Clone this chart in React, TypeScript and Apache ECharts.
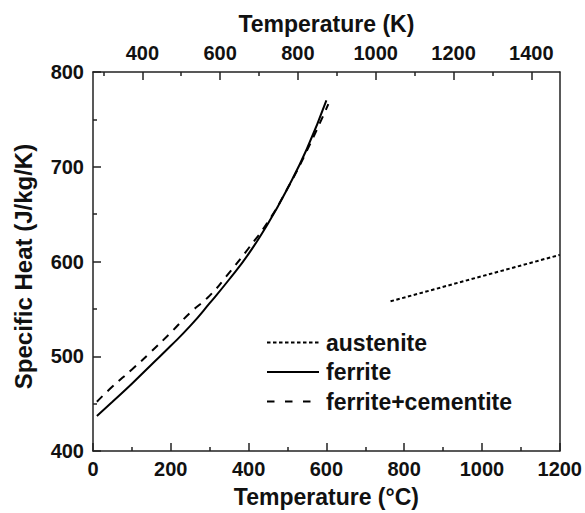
import React, { useEffect, useRef } from 'react';
import * as echarts from 'echarts';

// ---- data ----
const celsiusMin = 0;
const celsiusMax = 1200;
const kelvinMin = 273.15;
const kelvinMax = 1473.15;
const kelvinMajorTicks = [400, 600, 800, 1000, 1200, 1400];
const kelvinMinorTicks = [300, 500, 700, 900, 1100, 1300];

const seriesNames = ['austenite', 'ferrite', 'ferrite+cementite'];

const austeniteT = [765, 1200];
const austeniteCp = [558, 607];

const ferriteT = [10, 50, 100, 150, 200, 250, 300, 350, 400, 450, 500, 550, 600];
const ferriteCp = [437, 452, 471, 491, 511, 532, 556, 581, 608, 640, 677, 719, 770];

const ferriteCementiteT = [10, 50, 100, 150, 200, 250, 300, 350, 400, 450, 500, 550, 605];
const ferriteCementiteCp = [452, 468, 486, 505, 525, 546, 564, 588, 614, 642, 677, 717, 766];

const FONT = '"Liberation Sans", Arial, Helvetica, sans-serif';
const AXIS_COLOR = '#222';

const zip = (xs: number[], ys: number[]) => xs.map((x, i) => [x, ys[i]]);
const plain = (v: number) => String(Math.round(v));

const tickLabel = {
  fontSize: 20,
  fontWeight: 'bold' as const,
  color: '#111',
  fontFamily: FONT,
  formatter: plain,
};
const titleStyle = {
  fontSize: 23,
  fontWeight: 'bold' as const,
  color: '#111',
  fontFamily: FONT,
};
const axisLine = { show: true, lineStyle: { color: AXIS_COLOR, width: 1.5 } };

export default function App() {
  const ref = useRef<HTMLDivElement>(null);

  useEffect(() => {
    document.body.style.margin = '0';
    if (!ref.current) return;
    const chart = echarts.init(ref.current, undefined, { renderer: 'svg' });
    const option: any = {
      animation: false,
      backgroundColor: '#fff',
      grid: { left: 93, right: 22, top: 72, bottom: 62, containLabel: false },
      legend: {
        orient: 'vertical',
        left: 266,
        top: 331,
        padding: 0,
        itemWidth: 52,
        itemHeight: 14,
        itemGap: 6.5,
        data: [
          { name: seriesNames[0] },
          { name: seriesNames[1] },
          { name: seriesNames[2], lineStyle: { type: [7.5, 10.5] } },
        ],
        itemStyle: { color: 'rgba(0,0,0,0)', borderWidth: 0, opacity: 0 },
        textStyle: { ...titleStyle, lineHeight: 23, padding: [0, 0, 0, 2] },
      },
      xAxis: [
        {
          type: 'value',
          position: 'bottom',
          min: celsiusMin,
          max: celsiusMax,
          interval: 200,
          name: 'Temperature (°C)',
          nameLocation: 'middle',
          nameGap: 34,
          nameTextStyle: titleStyle,
          axisLine,
          axisTick: { show: true, inside: true, length: 8, lineStyle: { color: AXIS_COLOR, width: 1.5 } },
          minorTick: { show: true, splitNumber: 2, length: 4, lineStyle: { color: AXIS_COLOR, width: 1.5 } },
          axisLabel: { ...tickLabel, margin: 8 },
          splitLine: { show: false },
          minorSplitLine: { show: false },
        },
        {
          type: 'value',
          position: 'top',
          min: kelvinMin,
          max: kelvinMax,
          name: 'Temperature (K)',
          nameLocation: 'middle',
          nameGap: 37,
          nameTextStyle: titleStyle,
          axisLine,
          axisTick: {
            show: true,
            inside: true,
            length: 8,
            customValues: kelvinMajorTicks,
            lineStyle: { color: AXIS_COLOR, width: 1.5 },
          },
          axisLabel: { ...tickLabel, margin: 9, customValues: kelvinMajorTicks },
          splitLine: { show: false },
        },
        {
          type: 'value',
          position: 'top',
          min: kelvinMin,
          max: kelvinMax,
          axisLine: { show: false },
          axisTick: {
            show: true,
            inside: true,
            length: 4,
            customValues: kelvinMinorTicks,
            lineStyle: { color: AXIS_COLOR, width: 1.5 },
          },
          axisLabel: { show: false, customValues: kelvinMinorTicks },
          splitLine: { show: false },
        },
      ],
      yAxis: [
        {
          type: 'value',
          position: 'left',
          min: 400,
          max: 800,
          interval: 100,
          name: 'Specific Heat (J/kg/K)',
          nameLocation: 'middle',
          nameGap: 58,
          nameRotate: 90,
          nameTextStyle: { ...titleStyle, fontSize: 24, padding: [0, 10, 0, 0] },
          axisLine,
          axisTick: { show: true, inside: true, length: 8, lineStyle: { color: AXIS_COLOR, width: 1.5 } },
          minorTick: { show: true, splitNumber: 2, length: 4, lineStyle: { color: AXIS_COLOR, width: 1.5 } },
          axisLabel: { ...tickLabel, margin: 9 },
          splitLine: { show: false },
          minorSplitLine: { show: false },
        },
        {
          type: 'value',
          position: 'right',
          min: 400,
          max: 800,
          axisLine,
          axisTick: { show: false },
          axisLabel: { show: false },
          splitLine: { show: false },
        },
      ],
      series: [
        {
          name: seriesNames[0],
          type: 'line',
          xAxisIndex: 0,
          yAxisIndex: 0,
          data: zip(austeniteT, austeniteCp),
          symbol: 'none',
          lineStyle: { color: '#000', width: 2, type: [3.5, 2.5] },
          itemStyle: { color: '#000' },
        },
        {
          name: seriesNames[1],
          type: 'line',
          xAxisIndex: 0,
          yAxisIndex: 0,
          data: zip(ferriteT, ferriteCp),
          symbol: 'none',
          smooth: true,
          lineStyle: { color: '#000', width: 2, type: 'solid' },
          itemStyle: { color: '#000' },
        },
        {
          name: seriesNames[2],
          type: 'line',
          xAxisIndex: 0,
          yAxisIndex: 0,
          data: zip(ferriteCementiteT, ferriteCementiteCp),
          symbol: 'none',
          smooth: true,
          lineStyle: { color: '#000', width: 2, type: [8, 7] },
          itemStyle: { color: '#000' },
        },
      ],
    };
    chart.setOption(option);
    return () => chart.dispose();
  }, []);

  return <div ref={ref} style={{ width: 585, height: 513 }} />;
}
